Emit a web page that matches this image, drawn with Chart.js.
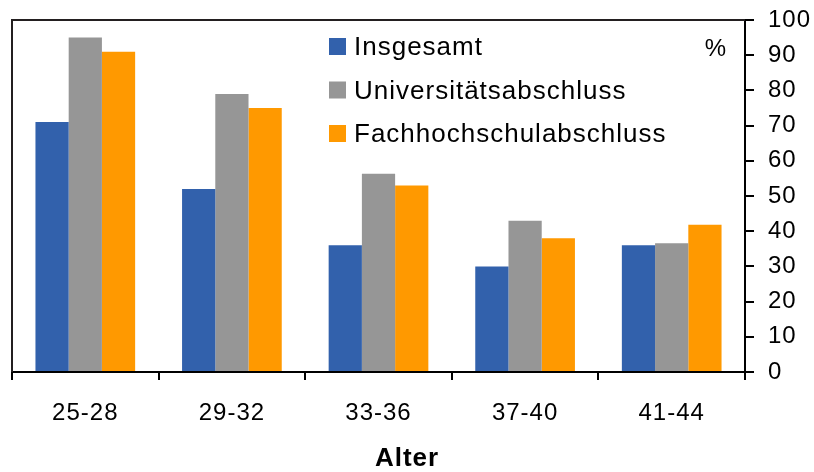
<!DOCTYPE html>
<html>
<head>
<meta charset="utf-8">
<script src="https://cdn.jsdelivr.net/npm/chart.js@4.4.0/dist/chart.umd.min.js"></script>
<style>
  html, body { margin: 0; padding: 0; background: #fff; }
  #wrap { width: 814px; height: 472px; }
</style>
</head>
<body>
<div id="wrap"><canvas id="chart" width="814" height="472"></canvas></div>
<script>
// ============================
// Data
// ============================
const categories = ["25-28", "29-32", "33-36", "37-40", "41-44"];
const insgesamt = [71, 52, 36, 30, 36];
const universitaet = [95, 79, 56.3, 43, 36.6];
const fachhochschule = [91, 75, 53, 38, 41.8];
const seriesNames = ["Insgesamt", "Universitätsabschluss", "Fachhochschulabschluss"];
const yMin = 0, yMax = 100, yStep = 10;
const xTitle = "Alter";
const unitLabel = "%";

const FONT = '"Liberation Sans", Arial, sans-serif';

// ============================
// Frame, legend, titles
// ============================
const extras = {
    id: 'extras',
    beforeDraw(chart) {
        chart.ctx.letterSpacing = '1px';
    },
    afterDraw(chart) {
        const ctx = chart.ctx;
        const a = chart.chartArea;
        ctx.save();
        ctx.letterSpacing = '1px';

        // top + left frame
        ctx.strokeStyle = '#231f20';
        ctx.lineWidth = 2;
        ctx.beginPath();
        ctx.moveTo(a.left, a.bottom);
        ctx.lineTo(a.left, a.top);
        ctx.lineTo(a.right, a.top);
        ctx.stroke();

        // legend inside plot
        ctx.font = '26px ' + FONT;
        ctx.textAlign = 'left';
        ctx.textBaseline = 'alphabetic';
        chart.data.datasets.forEach((ds, i) => {
            const y = 38 + i * 43.5;
            ctx.fillStyle = ds.backgroundColor;
            ctx.fillRect(329, y, 17, 17);
            ctx.fillStyle = '#000';
            ctx.fillText(ds.label, 354, y + 17);
        });

        // unit
        ctx.font = '24px ' + FONT;
        ctx.textAlign = 'center';
        ctx.textBaseline = 'middle';
        ctx.fillText(unitLabel, 716, 49);

        // x title, centred on the canvas
        ctx.font = 'bold 26px ' + FONT;
        ctx.fillText(xTitle, chart.width / 2, 459);
        ctx.restore();
    }
};

// ============================
// Chart
// ============================
const ctx = document.getElementById('chart').getContext('2d');
const chart = new Chart(ctx, {
    type: 'bar',
    data: {
        labels: categories,
        datasets: [{
            label: seriesNames[0],
            backgroundColor: '#3261ac',
            data: insgesamt,
        }, {
            label: seriesNames[1],
            backgroundColor: '#969696',
            data: universitaet,
        }, {
            label: seriesNames[2],
            backgroundColor: '#ff9900',
            data: fachhochschule,
        }]
    },
    options: {
        responsive: false,
        devicePixelRatio: 1,
        animation: false,
        layout: { padding: { left: 12, top: 20, right: 0, bottom: 0 } },
        datasets: {
            bar: { categoryPercentage: 0.68, barPercentage: 1, borderWidth: 0 }
        },
        plugins: {
            legend: { display: false },
            tooltip: { enabled: false }
        },
        scales: {
            x: {
                offset: true,
                grid: {
                    offset: true,
                    drawOnChartArea: false,
                    tickLength: 8,
                    lineWidth: 2,
                    color: '#000'
                },
                border: { display: true, color: '#000', width: 2 },
                ticks: {
                    color: '#000',
                    font: { family: FONT, size: 24 },
                    padding: 19,
                    maxRotation: 0
                },
                afterFit(scale) {
                    scale.height = 100;
                    scale.paddingLeft = 0;
                    scale.paddingRight = 0;
                }
            },
            y: {
                position: 'right',
                min: yMin,
                max: yMax,
                grid: {
                    drawOnChartArea: false,
                    tickLength: 9,
                    lineWidth: 2,
                    color: '#000'
                },
                border: { display: true, color: '#000', width: 2 },
                ticks: {
                    stepSize: yStep,
                    color: '#000',
                    font: { family: FONT, size: 24 },
                    padding: 14
                },
                afterFit(scale) {
                    scale.width = 69;
                    scale.paddingTop = 0;
                    scale.paddingBottom = 0;
                }
            }
        }
    },
    plugins: [extras]
});
</script>
</body>
</html>
